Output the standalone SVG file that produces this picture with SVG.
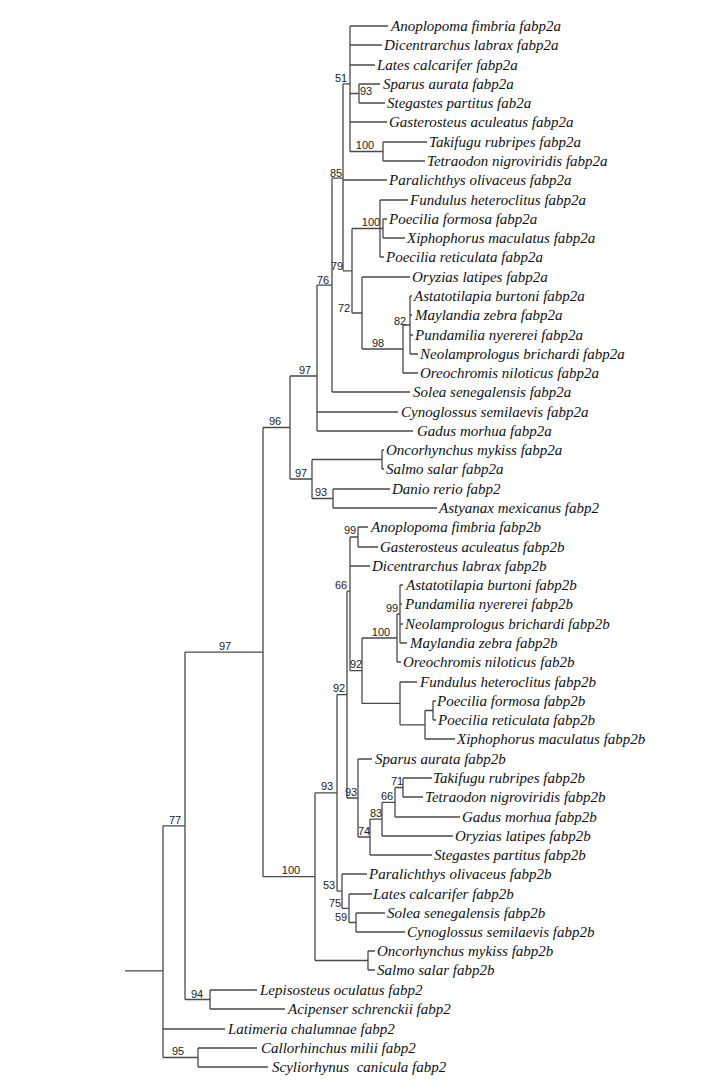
<svg xmlns="http://www.w3.org/2000/svg" width="720" height="1081" viewBox="0 0 720 1081">
<style>
.lf{font-family:"Liberation Serif","Times New Roman",serif;font-style:italic;font-size:15px;fill:#111;white-space:pre}
.bs{font-family:"Liberation Sans",Arial,sans-serif;font-size:11px;fill:#222;text-anchor:middle}
.br{fill:none;stroke:#4a4a4a;stroke-width:1.3}
</style>
<rect width="720" height="1081" fill="#fff"/>
<g id="connectors" class="br">
<path d="M350 26V151.5M359 84V103M383 142V161M343 83.8V270.8M380 200V257M383 219V238M352 228.5V313M362 277V349M403 325V373M410 296V354M332 178.2V392M317 285.1V431M290 376V479M312 459.5V498.5M382 450V469M333 489V508"/>
<path d="M263 427.5V876.7M350 537V670.7M358 527V547M362 638V703.4M397 614V662M400 585V643M400 682V724.8M425 710.5V739M433 701V720M347 591.2V798M358 759V837M370 819.1V855M382 802.3V836M395 787.5V817M403 778V797M337 694.6V891.1M342 874V908.3M349 894V922.5M356 913V932M315 792.9V960.5M368 951V970M185 652.1V999.5M210 990V1009M163 825.8V1057.5M198 1048V1067"/>
<path d="M343 83.8H350M350 93.5H359M350 151.5H383M332 178.2H343M343 270.8H352M352 228.5H380M380 228.5H383M352 313H362M362 349H403M403 325H410M317 285.1H332M290 376H317M263 427.5H290M290 479H312M312 459.5H382M312 498.5H333"/>
<path d="M185 652.1H263M263 876.7H315M315 792.9H337M337 694.6H347M347 591.2H350M350 537H358M350 670.7H362M362 638H397M397 614H400M362 703.4H400M400 724.8H425M425 710.5H433M347 798H358M358 837H370M370 819.1H382M382 802.3H395M395 787.5H403M337 891.1H342M342 908.3H349M349 922.5H356M315 960.5H368M163 825.8H185M185 999.5H210M163 1057.5H198M125 970.8H163"/>
<path d="M350 26H388M350 45H382M350 65H375M359 84H380M359 103H385M350 122H387M383 142H427M383 161H425M343 180H387M380 200H408M383 219H387M383 238H405M380 257H384M362 277H410M410 296H412M410 315H412M410 335H413M410 354H418M403 373H418M332 392H410M317 412H398M317 431H413M382 450H384M382 469H384M333 489H390M333 508H437"/>
<path d="M358 527H368M358 547H378M350 566H370M400 585H403M400 604H402M400 624H403M400 643H407M397 662H401M400 682H417M433 701H436M433 720H436M425 739H455M358 759H372M403 778H432M403 797H423M395 817H460M382 836H453M370 855H432M342 874H367M349 894H372M356 913H385M356 932H405M368 951H375M368 970H375M210 990H257M210 1009H285M163 1029H225M198 1048H257M198 1067H268"/>
</g>
<g id="leaf-01"><text class="lf" x="391" y="31">Anoplopoma fimbria fabp2a</text></g>
<g id="leaf-02"><text class="lf" x="384" y="50">Dicentrarchus labrax fabp2a</text></g>
<g id="leaf-03"><text class="lf" x="377" y="70">Lates calcarifer fabp2a</text></g>
<g id="leaf-04"><text class="lf" x="383" y="89">Sparus aurata fabp2a</text></g>
<g id="leaf-05"><text class="lf" x="387" y="108">Stegastes partitus fab2a</text></g>
<g id="leaf-06"><text class="lf" x="389" y="127">Gasterosteus aculeatus fabp2a</text></g>
<g id="leaf-07"><text class="lf" x="429" y="147">Takifugu rubripes fabp2a</text></g>
<g id="leaf-08"><text class="lf" x="427" y="166">Tetraodon nigroviridis fabp2a</text></g>
<g id="leaf-09"><text class="lf" x="389" y="185">Paralichthys olivaceus fabp2a</text></g>
<g id="leaf-10"><text class="lf" x="410" y="205">Fundulus heteroclitus fabp2a</text></g>
<g id="leaf-11"><text class="lf" x="389" y="224">Poecilia formosa fabp2a</text></g>
<g id="leaf-12"><text class="lf" x="407" y="243">Xiphophorus maculatus fabp2a</text></g>
<g id="leaf-13"><text class="lf" x="386" y="262">Poecilia reticulata fabp2a</text></g>
<g id="leaf-14"><text class="lf" x="412" y="282">Oryzias latipes fabp2a</text></g>
<g id="leaf-15"><text class="lf" x="414" y="301">Astatotilapia burtoni fabp2a</text></g>
<g id="leaf-16"><text class="lf" x="415" y="320">Maylandia zebra fabp2a</text></g>
<g id="leaf-17"><text class="lf" x="415" y="340">Pundamilia nyererei fabp2a</text></g>
<g id="leaf-18"><text class="lf" x="420" y="359">Neolamprologus brichardi fabp2a</text></g>
<g id="leaf-19"><text class="lf" x="420" y="378">Oreochromis niloticus fabp2a</text></g>
<g id="leaf-20"><text class="lf" x="413" y="397">Solea senegalensis fabp2a</text></g>
<g id="leaf-21"><text class="lf" x="401" y="417">Cynoglossus semilaevis fabp2a</text></g>
<g id="leaf-22"><text class="lf" x="417" y="436">Gadus morhua fabp2a</text></g>
<g id="leaf-23"><text class="lf" x="386" y="455">Oncorhynchus mykiss fabp2a</text></g>
<g id="leaf-24"><text class="lf" x="386" y="474">Salmo salar fabp2a</text></g>
<g id="leaf-25"><text class="lf" x="392" y="494">Danio rerio fabp2</text></g>
<g id="leaf-26"><text class="lf" x="439" y="513">Astyanax mexicanus fabp2</text></g>
<g id="leaf-27"><text class="lf" x="371" y="532">Anoplopoma fimbria fabp2b</text></g>
<g id="leaf-28"><text class="lf" x="380" y="552">Gasterosteus aculeatus fabp2b</text></g>
<g id="leaf-29"><text class="lf" x="372" y="571">Dicentrarchus labrax fabp2b</text></g>
<g id="leaf-30"><text class="lf" x="406" y="590">Astatotilapia burtoni fabp2b</text></g>
<g id="leaf-31"><text class="lf" x="405" y="609">Pundamilia nyererei fabp2b</text></g>
<g id="leaf-32"><text class="lf" x="405" y="629">Neolamprologus brichardi fabp2b</text></g>
<g id="leaf-33"><text class="lf" x="410" y="648">Maylandia zebra fabp2b</text></g>
<g id="leaf-34"><text class="lf" x="403" y="667">Oreochromis niloticus fab2b</text></g>
<g id="leaf-35"><text class="lf" x="420" y="687">Fundulus heteroclitus fabp2b</text></g>
<g id="leaf-36"><text class="lf" x="437" y="706">Poecilia formosa fabp2b</text></g>
<g id="leaf-37"><text class="lf" x="438" y="725">Poecilia reticulata fabp2b</text></g>
<g id="leaf-38"><text class="lf" x="457" y="744">Xiphophorus maculatus fabp2b</text></g>
<g id="leaf-39"><text class="lf" x="375" y="764">Sparus aurata fabp2b</text></g>
<g id="leaf-40"><text class="lf" x="433" y="783">Takifugu rubripes fabp2b</text></g>
<g id="leaf-41"><text class="lf" x="425" y="802">Tetraodon nigroviridis fabp2b</text></g>
<g id="leaf-42"><text class="lf" x="462" y="822">Gadus morhua fabp2b</text></g>
<g id="leaf-43"><text class="lf" x="455" y="841">Oryzias latipes fabp2b</text></g>
<g id="leaf-44"><text class="lf" x="434" y="860">Stegastes partitus fabp2b</text></g>
<g id="leaf-45"><text class="lf" x="369" y="879">Paralichthys olivaceus fabp2b</text></g>
<g id="leaf-46"><text class="lf" x="373" y="899">Lates calcarifer fabp2b</text></g>
<g id="leaf-47"><text class="lf" x="387" y="918">Solea senegalensis fabp2b</text></g>
<g id="leaf-48"><text class="lf" x="407" y="937">Cynoglossus semilaevis fabp2b</text></g>
<g id="leaf-49"><text class="lf" x="377" y="956">Oncorhynchus mykiss fabp2b</text></g>
<g id="leaf-50"><text class="lf" x="377" y="975">Salmo salar fabp2b</text></g>
<g id="leaf-51"><text class="lf" x="260" y="995">Lepisosteus oculatus fabp2</text></g>
<g id="leaf-52"><text class="lf" x="288" y="1014">Acipenser schrenckii fabp2</text></g>
<g id="leaf-53"><text class="lf" x="228" y="1034">Latimeria chalumnae fabp2</text></g>
<g id="leaf-54"><text class="lf" x="261" y="1053">Callorhinchus milii fabp2</text></g>
<g id="leaf-55"><text class="lf" x="272" y="1072">Scyliorhynus  canicula fabp2</text></g>
<g id="node-51"><text class="bs" x="341" y="82">51</text></g>
<g id="node-93a"><text class="bs" x="366" y="95">93</text></g>
<g id="node-100a1"><text class="bs" x="365" y="149">100</text></g>
<g id="node-85"><text class="bs" x="336" y="177">85</text></g>
<g id="node-100a2"><text class="bs" x="371" y="226">100</text></g>
<g id="node-79"><text class="bs" x="337" y="270">79</text></g>
<g id="node-76"><text class="bs" x="323" y="284">76</text></g>
<g id="node-72"><text class="bs" x="344" y="312">72</text></g>
<g id="node-82"><text class="bs" x="400" y="325">82</text></g>
<g id="node-98"><text class="bs" x="378" y="347">98</text></g>
<g id="node-97a"><text class="bs" x="305" y="374">97</text></g>
<g id="node-96"><text class="bs" x="275" y="425">96</text></g>
<g id="node-97b"><text class="bs" x="301" y="477">97</text></g>
<g id="node-93b"><text class="bs" x="321" y="496">93</text></g>
<g id="node-99a"><text class="bs" x="350" y="534">99</text></g>
<g id="node-66a"><text class="bs" x="341" y="589">66</text></g>
<g id="node-99b"><text class="bs" x="392" y="612">99</text></g>
<g id="node-100b1"><text class="bs" x="381" y="636">100</text></g>
<g id="node-92a"><text class="bs" x="356" y="668">92</text></g>
<g id="node-92b"><text class="bs" x="339" y="692">92</text></g>
<g id="node-71"><text class="bs" x="397" y="785">71</text></g>
<g id="node-66b"><text class="bs" x="387" y="800">66</text></g>
<g id="node-83"><text class="bs" x="376" y="817">83</text></g>
<g id="node-74"><text class="bs" x="364" y="835">74</text></g>
<g id="node-93c"><text class="bs" x="351" y="796">93</text></g>
<g id="node-93d"><text class="bs" x="327" y="790">93</text></g>
<g id="node-53"><text class="bs" x="329" y="889">53</text></g>
<g id="node-75"><text class="bs" x="335" y="907">75</text></g>
<g id="node-59"><text class="bs" x="341" y="921">59</text></g>
<g id="node-100b2"><text class="bs" x="291" y="874">100</text></g>
<g id="node-97c"><text class="bs" x="225" y="650">97</text></g>
<g id="node-77"><text class="bs" x="175" y="824">77</text></g>
<g id="node-94"><text class="bs" x="197" y="998">94</text></g>
<g id="node-95"><text class="bs" x="178" y="1055">95</text></g>
</svg>
